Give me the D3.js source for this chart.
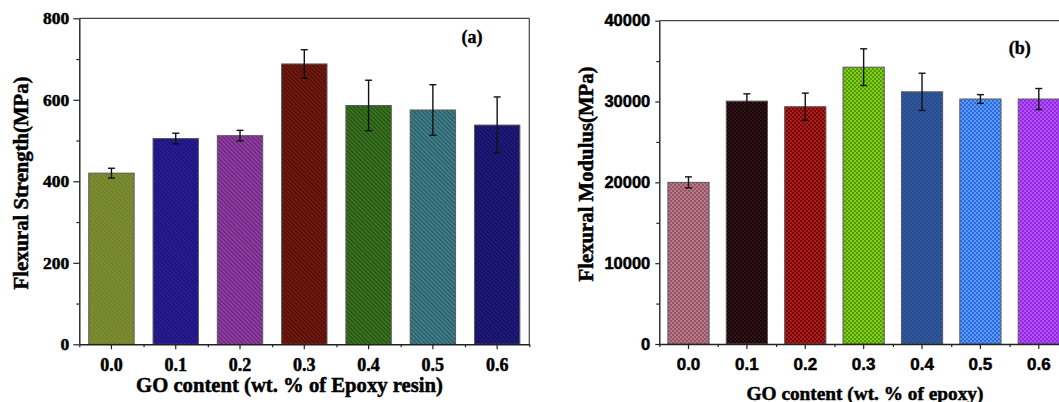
<!DOCTYPE html>
<html>
<head>
<meta charset="utf-8">
<script src="https://cdn.jsdelivr.net/npm/d3@7/dist/d3.min.js"></script>
<style>
  html, body { margin: 0; padding: 0; background: #fff; }
  svg { display: block; }
</style>
</head>
<body>
<svg id="chart" width="1059" height="402"></svg>
<script>
// ---------- DATA ----------
const categories = ["0.0", "0.1", "0.2", "0.3", "0.4", "0.5", "0.6"];

const strengthValues = [420, 505, 512, 688, 586, 575, 538];
const strengthErrors = [12, 13, 13, 35, 62, 62, 69];
const strengthTicks = [0, 200, 400, 600, 800];
const strengthMinorTicks = [100, 300, 500, 700];

const modulusValues = [20000, 30050, 29360, 34250, 31200, 30310, 30310];
const modulusErrors = [680, 900, 1680, 2270, 2300, 540, 1300];
const modulusTicks = [0, 10000, 20000, 30000, 40000];
const modulusMinorTicks = [5000, 15000, 25000, 35000];

// pattern colours [background, stripe]
const strengthColors = [
  ["#908a2a", "#5c8634"], ["#2c1ca4", "#181468"], ["#9a40a8", "#64267a"],
  ["#7a1a10", "#4a0e08"], ["#3a7a20", "#264e12"], ["#44848c", "#285a66"],
  ["#221c84", "#100e58"]
];
const modulusColors = [
  ["#985566", "#b67888"], ["#341219", "#160608"], ["#b41a1a", "#6c0c0c"],
  ["#86cc14", "#4e9a08"], ["#2a44b0", "#2e5e7a"], ["#5a9af8", "#2e6ade"],
  ["#bc4cf8", "#8a2ce0"]
];

// ---------- DRAW ----------
const svg = d3.select("#chart");
const defs = svg.append("defs");

function fitFont(sel, target) {
  const w = sel.node().getComputedTextLength();
  const fs = parseFloat(sel.attr("font-size"));
  sel.attr("font-size", fs * target / w);
}

function heavy(sel, sw) {
  sel.attr("stroke", "#000").attr("stroke-width", sw).attr("paint-order", "stroke");
}

function panel(cfg) {
  const g = svg.append("g");
  const x = d3.scaleBand().domain(categories).range(cfg.xRange)
    .paddingInner(0.294).paddingOuter(0.147);
  const xMinor = d3.scaleLinear().domain([0, categories.length]).range(cfg.xRange);
  const y = d3.scaleLinear().domain(cfg.yDomain).range(cfg.yRange);

  // patterns
  cfg.colors.forEach((c, i) => {
    const p = defs.append("pattern")
      .attr("id", cfg.id + "p" + i)
      .attr("patternUnits", "userSpaceOnUse");
    if (cfg.kind === "hatch") {
      p.attr("width", 3).attr("height", 3).attr("patternTransform", "rotate(-45)");
      p.append("rect").attr("width", 3).attr("height", 3).attr("fill", c[0]);
      p.append("rect").attr("width", 1.4).attr("height", 3).attr("fill", c[1]);
    } else {
      p.attr("width", 4).attr("height", 4);
      p.append("rect").attr("width", 4).attr("height", 4).attr("fill", c[0]);
      p.append("rect").attr("width", 2).attr("height", 2).attr("fill", c[1]);
      p.append("rect").attr("x", 2).attr("y", 2).attr("width", 2).attr("height", 2).attr("fill", c[1]);
    }
  });

  // bars
  g.selectAll(".bar").data(cfg.values).join("rect")
    .attr("x", (d, i) => x(categories[i]))
    .attr("width", x.bandwidth())
    .attr("y", d => y(d))
    .attr("height", d => y(0) - y(d))
    .attr("fill", (d, i) => `url(#${cfg.id}p${i})`)
    .attr("stroke", "#5a5a5a")
    .attr("stroke-width", 1);

  // error bars
  const eb = g.selectAll(".err").data(cfg.values).join("g");
  const cx = i => x(categories[i]) + x.bandwidth() / 2;
  eb.append("line")
    .attr("x1", (d, i) => cx(i)).attr("x2", (d, i) => cx(i))
    .attr("y1", (d, i) => y(d + cfg.errors[i])).attr("y2", (d, i) => y(d - cfg.errors[i]))
    .attr("stroke", "#111").attr("stroke-width", 1.4);
  [1, -1].forEach(s => {
    eb.append("line")
      .attr("x1", (d, i) => cx(i) - 3.5).attr("x2", (d, i) => cx(i) + 3.5)
      .attr("y1", (d, i) => y(d + s * cfg.errors[i])).attr("y2", (d, i) => y(d + s * cfg.errors[i]))
      .attr("stroke", "#111").attr("stroke-width", 1.4);
  });

  // frame (top & right)
  g.append("line").attr("x1", cfg.xRange[0]).attr("x2", cfg.xRange[1])
    .attr("y1", cfg.yRange[1]).attr("y2", cfg.yRange[1])
    .attr("stroke", "#444").attr("stroke-width", 1.2);
  g.append("line").attr("x1", cfg.xRange[1]).attr("x2", cfg.xRange[1])
    .attr("y1", cfg.yRange[1]).attr("y2", cfg.yRange[0])
    .attr("stroke", "#444").attr("stroke-width", 1.2);

  // y axis
  const ya = g.append("g").attr("transform", `translate(${cfg.xRange[0]},0)`)
    .call(d3.axisLeft(y).tickValues(cfg.ticks).tickSize(cfg.yTick).tickPadding(cfg.yPad).tickSizeOuter(0)
      .tickFormat(d3.format("d")));
  g.append("g").attr("transform", `translate(${cfg.xRange[0]},0)`)
    .call(d3.axisLeft(y).tickValues(cfg.minor).tickSize(3).tickFormat("").tickSizeOuter(0))
    .call(a => a.select(".domain").remove());

  // x axis
  const xa = g.append("g").attr("transform", `translate(0,${cfg.yRange[0]})`)
    .call(d3.axisBottom(x).tickSize(5).tickPadding(cfg.xPad).tickSizeOuter(0));
  g.append("g").attr("transform", `translate(0,${cfg.yRange[0]})`)
    .call(d3.axisBottom(xMinor).tickValues(d3.range(categories.length + 1)).tickSize(3).tickFormat("").tickSizeOuter(0))
    .call(a => a.select(".domain").remove());

  g.selectAll(".domain").attr("stroke", "#222").attr("stroke-width", 1.4);
  g.selectAll(".tick line").attr("stroke", "#222").attr("stroke-width", 1.2);

  ya.selectAll("text")
    .attr("font-family", cfg.tickFont).attr("font-weight", "bold")
    .attr("font-size", cfg.yTickSize).attr("fill", "#000").call(heavy, 0.5);
  xa.selectAll("text")
    .attr("font-family", cfg.tickFont).attr("font-weight", "bold")
    .attr("font-size", cfg.xTickSize).attr("fill", "#000").call(heavy, 0.5);

  // titles
  const xt = g.append("text")
    .attr("x", cfg.xTitle.x).attr("y", cfg.xTitle.y)
    .attr("text-anchor", "middle")
    .attr("font-family", "'Liberation Serif', 'Times New Roman', serif")
    .attr("font-weight", "bold").attr("font-size", 20)
    .text(cfg.xTitle.text);
  fitFont(xt, cfg.xTitle.w);
  xt.call(heavy, 0.5);

  const yt = g.append("text")
    .attr("transform", `translate(${cfg.yTitle.x},${cfg.yTitle.y}) rotate(-90)`)
    .attr("text-anchor", "middle")
    .attr("font-family", "'Liberation Serif', 'Times New Roman', serif")
    .attr("font-weight", "bold").attr("font-size", 20)
    .text(cfg.yTitle.text);
  fitFont(yt, cfg.yTitle.w);
  yt.call(heavy, 0.5);

  g.append("text")
    .attr("x", cfg.tag.x).attr("y", cfg.tag.y)
    .attr("text-anchor", "middle")
    .attr("font-family", "'Liberation Serif', 'Times New Roman', serif")
    .attr("font-weight", "bold").attr("font-size", 18)
    .text(cfg.tag.text).call(heavy, 0.4);
}

panel({
  id: "a", kind: "hatch",
  xRange: [79.3, 529.3], yRange: [344.3, 18.3], yDomain: [0, 800],
  values: strengthValues, errors: strengthErrors,
  ticks: strengthTicks, minor: strengthMinorTicks, colors: strengthColors,
  tickFont: "'Liberation Serif', 'Times New Roman', serif", yTickSize: 17.5, xTickSize: 18,
  yTick: 6, yPad: 4, xPad: 9,
  xTitle: { text: "GO content (wt. % of Epoxy resin)", x: 289.5, y: 391.5, w: 307 },
  yTitle: { text: "Flexural Strength(MPa)", x: 28, y: 183, w: 213 },
  tag: { text: "(a)", x: 472, y: 43 }
});

panel({
  id: "b", kind: "check",
  xRange: [659.3, 1068], yRange: [344, 20.7], yDomain: [0, 40000],
  values: modulusValues, errors: modulusErrors,
  ticks: modulusTicks, minor: modulusMinorTicks, colors: modulusColors,
  tickFont: "'Liberation Sans', Arial, sans-serif", yTickSize: 16.5, xTickSize: 17,
  yTick: 4, yPad: 5, xPad: 9,
  xTitle: { text: "GO content (wt. % of epoxy)", x: 865, y: 399.5, w: 237 },
  yTitle: { text: "Flexural Modulus(MPa)", x: 593, y: 174, w: 215 },
  tag: { text: "(b)", x: 1019.7, y: 54 }
});
</script>
</body>
</html>
